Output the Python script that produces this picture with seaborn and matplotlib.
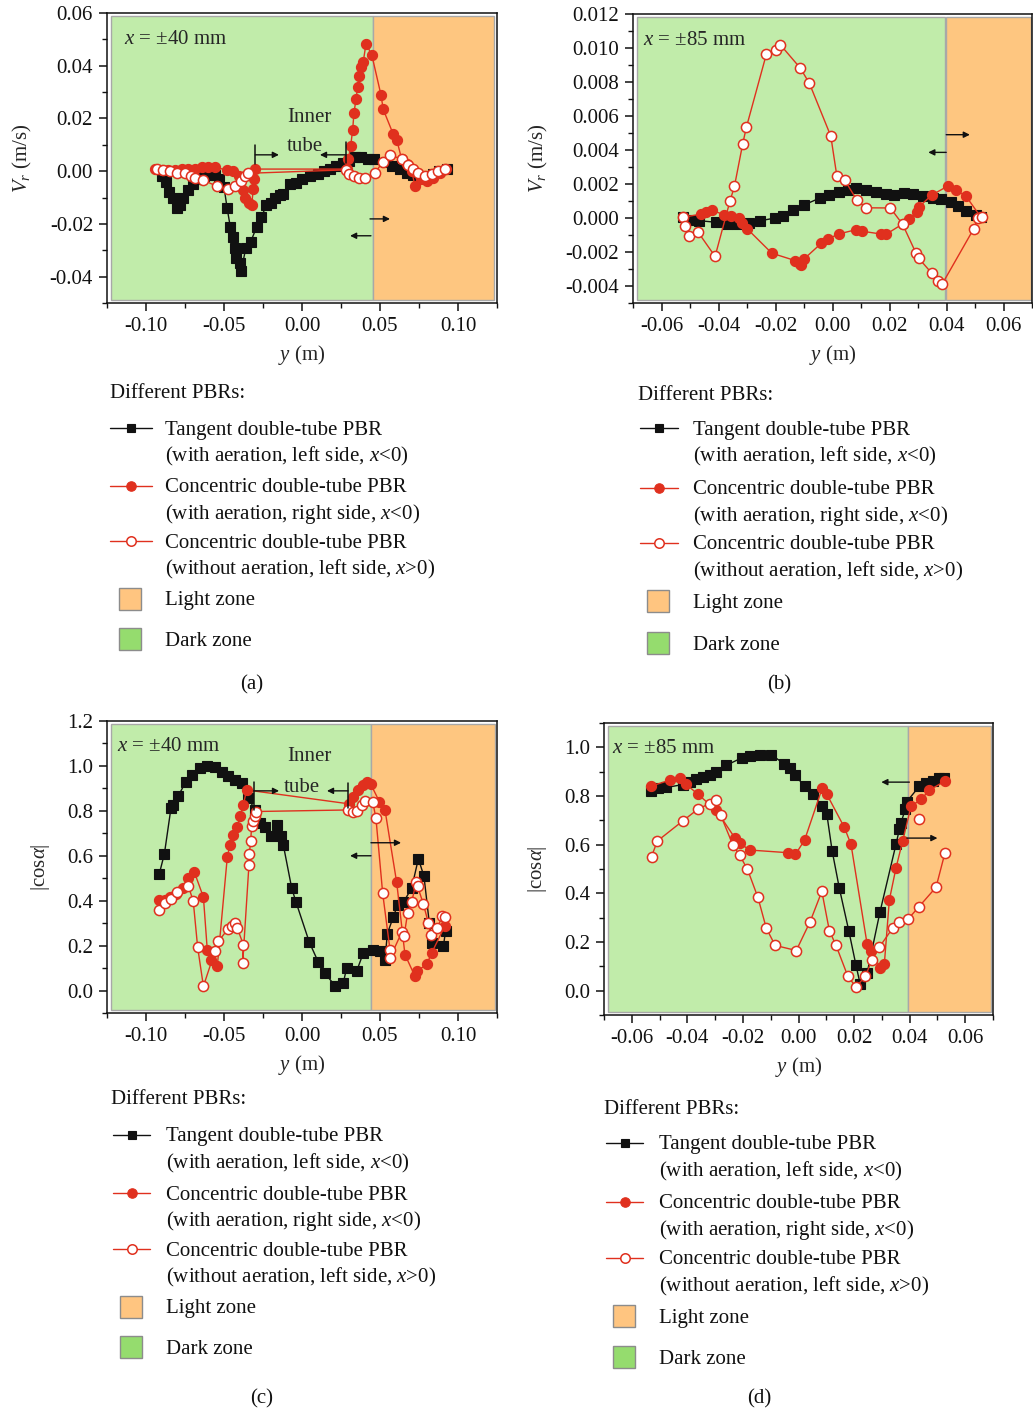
import matplotlib
matplotlib.use("Agg")
import matplotlib.pyplot as plt
import seaborn as sns
from matplotlib.lines import Line2D
from matplotlib.patches import Rectangle
from matplotlib.ticker import MultipleLocator

sns.set_theme(style="ticks")
plt.rcParams.update({
    "font.family": ["Liberation Serif", "DejaVu Serif"],
    "mathtext.fontset": "custom",
    "mathtext.rm": "Liberation Serif",
    "mathtext.it": "Liberation Serif:italic",
    "mathtext.bf": "Liberation Serif:bold",
    "axes.unicode_minus": True,
    "axes.edgecolor": "#111111",
    "axes.linewidth": 1.1,
})

# ---------------- (a) radial velocity, x = ±40 mm ----------------
a_tan_y = [-0.090, -0.087, -0.085, -0.083, -0.080, -0.078, -0.076, -0.073, -0.070, -0.067,
           -0.063, -0.060, -0.056, -0.053, -0.050, -0.048, -0.046, -0.044, -0.043, -0.042,
           -0.040, -0.039, -0.036, -0.033, -0.029, -0.026, -0.023, -0.020, -0.017, -0.014,
           -0.012, -0.008, -0.004, 0.000, 0.005, 0.010, 0.014, 0.018, 0.022, 0.026,
           0.030, 0.034, 0.038, 0.042, 0.046, 0.054, 0.058, 0.063, 0.067, 0.071,
           0.075, 0.080, 0.084, 0.088, 0.093]
a_tan_v = [-0.002, -0.004, -0.008, -0.010, -0.014, -0.013, -0.010, -0.007, -0.005, -0.003,
           -0.002, -0.0015, -0.0015, -0.003, -0.006, -0.014, -0.021, -0.025, -0.029, -0.033,
           -0.035, -0.038, -0.029, -0.027, -0.021, -0.0175, -0.013, -0.012, -0.010, -0.009,
           -0.0085, -0.005, -0.0045, -0.003, -0.002, -0.001, 0.000, 0.001, 0.002, 0.003,
           0.004, 0.0055, 0.0055, 0.0048, 0.0045, 0.0035, 0.002, 0.0008, -0.0005, -0.0015,
           -0.0025, -0.002, -0.001, 0.000, 0.0008]

a_con_y = [-0.0942, -0.090, -0.0857, -0.0814, -0.0771, -0.0729, -0.0686, -0.0643, -0.060, -0.0558,
           -0.0483, -0.044, -0.0402, -0.038, -0.0365, -0.034, -0.0323, -0.0312, -0.0308, -0.0301,
           0.0286, 0.0297, 0.0312, 0.0325, 0.0333, 0.0346, 0.0357, 0.0368, 0.0378, 0.0393,
           0.041, 0.0447, 0.0506, 0.0521, 0.0585, 0.0607, 0.0639, 0.0671, 0.0703, 0.0724,
           0.0761, 0.0799, 0.0842, 0.0885, 0.0921]
a_con_v = [0.0008, 0.0005, 0.0005, 0.0005, 0.0008, 0.001, 0.001, 0.0014, 0.0014, 0.0014,
           0.0005, 0.0001, -0.0018, -0.007, -0.010, -0.012, -0.0128, -0.0068, -0.003, 0.0008,
           0.0008, 0.0045, 0.0096, 0.0158, 0.0221, 0.0272, 0.032, 0.0362, 0.0397, 0.0416,
           0.0483, 0.0442, 0.029, 0.0234, 0.014, 0.012, 0.0045, 0.0026, 0.0001, -0.0055,
           -0.003, -0.0036, -0.0024, -0.0005, 0.001]

a_noa_y = [-0.0932, -0.0889, -0.0846, -0.0799, -0.075, -0.0714, -0.0686, -0.0632, -0.0543, -0.0472,
           -0.0429, -0.0393, -0.0365, -0.0344, 0.0282, 0.0303, 0.0333, 0.0368, 0.0404, 0.0468,
           0.0517, 0.0564, 0.0639, 0.0682, 0.0714, 0.0746, 0.0788, 0.0831, 0.0874, 0.0917]
a_noa_v = [0.0008, 0.0003, -0.0001, -0.0005, -0.0008, -0.0018, -0.0024, -0.0034, -0.0058, -0.0068,
           -0.0055, -0.0036, -0.0018, -0.0008, 0.0005, -0.0011, -0.0018, -0.0024, -0.0026, -0.0005,
           0.0033, 0.0062, 0.0045, 0.0024, 0.0008, -0.0005, -0.0018, -0.0009, 0.0001, 0.001]

# ---------------- (b) radial velocity, x = ±85 mm ----------------
b_tan_y = [-0.0525, -0.0496, -0.0467, -0.0409, -0.0369, -0.0334, -0.0293, -0.0253, -0.0201, -0.0172,
           -0.0137, -0.0101, -0.0045, -0.0013, 0.0024, 0.0053, 0.0084, 0.0117, 0.0151, 0.0186,
           0.0215, 0.025, 0.0284, 0.0319, 0.0354, 0.0382, 0.0417, 0.044, 0.0469, 0.0504, 0.0521]
b_tan_v = [0.00004, -0.0001, -0.00016, -0.00025, -0.00037, -0.00037, -0.00029, -0.00016, 0.0, 0.00014,
           0.00049, 0.00076, 0.00117, 0.00135, 0.00154, 0.00166, 0.00174, 0.00166, 0.00154, 0.00141,
           0.00137, 0.00146, 0.00142, 0.00131, 0.00117, 0.00111, 0.00092, 0.00068, 0.00043, 0.00018, 0.00004]

b_con_y = [-0.0525, -0.0461, -0.0444, -0.0424, -0.038, -0.0355, -0.0328, -0.0317, -0.0299, -0.0213,
           -0.0132, -0.0114, -0.0109, -0.0099, -0.0039, -0.0016, 0.0022, 0.0084, 0.0105, 0.0169,
           0.0188, 0.0246, 0.0267, 0.0296, 0.0304, 0.0348, 0.0406, 0.0432, 0.0469, 0.0521]
b_con_v = [0.00004, 0.00023, 0.00033, 0.00047, 0.00018, 0.00014, 0.00002, -0.00029, -0.00064, -0.00207,
           -0.0025, -0.00269, -0.00275, -0.0024, -0.00148, -0.00123, -0.00094, -0.00068, -0.00078, -0.00094,
           -0.00096, -0.00035, -0.00006, 0.00033, 0.00066, 0.00135, 0.00189, 0.00166, 0.00127, 0.00004]

b_noa_y = [-0.0525, -0.0519, -0.0504, -0.0473, -0.0412, -0.036, -0.0344, -0.0315, -0.0302, -0.0232,
           -0.020, -0.0183, -0.0113, -0.0081, -0.0006, 0.0015, 0.0043, 0.0085, 0.0117, 0.0203,
           0.0246, 0.0293, 0.0302, 0.0349, 0.0371, 0.0385, 0.0496, 0.051, 0.0525]
b_noa_v = [0.00004, -0.00045, -0.00107, -0.0008, -0.00226, 0.00098, 0.00187, 0.00437, 0.00535, 0.00964,
           0.0099, 0.01019, 0.00882, 0.00792, 0.00482, 0.0025, 0.00222, 0.00107, 0.0006, 0.00059,
           -0.00037, -0.00207, -0.00236, -0.00326, -0.00373, -0.00388, -0.00062, 0.0, 0.00004]

# ---------------- (c) |cos alpha|, x = ±40 mm ----------------
c_tan_y = [-0.0915, -0.0882, -0.084, -0.0829, -0.0793, -0.0744, -0.0707, -0.0654, -0.0611, -0.0558,
           -0.0515, -0.0472, -0.0429, -0.0387, -0.0344, -0.0301, -0.0269, -0.0237, -0.0201, -0.0162,
           -0.0135, -0.012, -0.0066, -0.0038, 0.0047, 0.0105, 0.0147, 0.0212, 0.0265, 0.0286,
           0.035, 0.0393, 0.0453, 0.050, 0.0532, 0.0547, 0.0585, 0.0613, 0.065, 0.0703,
           0.0746, 0.0782, 0.0816, 0.0831, 0.0906, 0.0921]
c_tan_c = [0.519, 0.609, 0.812, 0.827, 0.867, 0.930, 0.960, 0.990, 1.0, 0.997,
           0.975, 0.953, 0.938, 0.923, 0.856, 0.804, 0.745, 0.727, 0.686, 0.738,
           0.689, 0.649, 0.456, 0.393, 0.215, 0.126, 0.076, 0.022, 0.034, 0.101,
           0.086, 0.167, 0.179, 0.175, 0.138, 0.253, 0.327, 0.382, 0.393, 0.456,
           0.587, 0.508, 0.301, 0.212, 0.197, 0.267]

c_con_y = [-0.0915, -0.0878, -0.0846, -0.0808, -0.0761, -0.0729, -0.069, -0.0632, -0.0607, -0.0583,
           -0.0543, -0.0479, -0.0462, -0.044, -0.0415, -0.0397, -0.0376, -0.0355, 0.0303, 0.0329,
           0.0361, 0.0393, 0.0419, 0.044, 0.0496, 0.0532, 0.0607, 0.066, 0.0724, 0.0735,
           0.0799, 0.0831, 0.0917]
c_con_c = [0.404, 0.401, 0.415, 0.431, 0.456, 0.501, 0.527, 0.416, 0.179, 0.135,
           0.108, 0.593, 0.649, 0.693, 0.730, 0.775, 0.827, 0.893, 0.831, 0.861,
           0.893, 0.916, 0.930, 0.920, 0.841, 0.804, 0.481, 0.160, 0.064, 0.086,
           0.116, 0.167, 0.289]

c_noa_y = [-0.0915, -0.0878, -0.0842, -0.0803, -0.0729, -0.0697, -0.0669, -0.0632, -0.0558, -0.0536,
           -0.0472, -0.0447, -0.0429, -0.0415, -0.0376, -0.038, -0.034, -0.0338, -0.0329, -0.0323,
           -0.0312, -0.0299, -0.0295, 0.0297, 0.0329, 0.0355, 0.0382, 0.0404, 0.0453, 0.0474,
           0.0517, 0.0564, 0.0564, 0.0639, 0.0654, 0.0677, 0.0703, 0.0731, 0.0741, 0.0778,
           0.081, 0.0825, 0.0868, 0.090, 0.0917]
c_noa_c = [0.36, 0.39, 0.407, 0.439, 0.467, 0.397, 0.193, 0.019, 0.175, 0.219,
           0.276, 0.289, 0.301, 0.279, 0.204, 0.123, 0.56, 0.609, 0.664, 0.733,
           0.753, 0.775, 0.797, 0.804, 0.797, 0.80, 0.827, 0.846, 0.841, 0.767,
           0.434, 0.182, 0.145, 0.259, 0.241, 0.345, 0.393, 0.481, 0.464, 0.385,
           0.301, 0.249, 0.279, 0.333, 0.327]

# ---------------- (d) |cos alpha|, x = ±85 mm ----------------
d_tan_y = [-0.0532, -0.0505, -0.0476, -0.0416, -0.0392, -0.0368, -0.0344, -0.032, -0.0296, -0.026,
           -0.0202, -0.0176, -0.014, -0.0098, -0.0053, -0.0032, -0.0012, 0.0022, 0.0052, 0.0085,
           0.0102, 0.0121, 0.0147, 0.0181, 0.0207, 0.0222, 0.0247, 0.0293, 0.0351, 0.0363,
           0.0369, 0.0384, 0.0389, 0.0435, 0.0459, 0.0483, 0.0507, 0.0525]
d_tan_c = [0.821, 0.831, 0.835, 0.847, 0.858, 0.868, 0.878, 0.888, 0.899, 0.926,
           0.958, 0.963, 0.970, 0.970, 0.933, 0.917, 0.885, 0.840, 0.810, 0.758,
           0.725, 0.575, 0.421, 0.246, 0.104, 0.027, 0.072, 0.322, 0.602, 0.663,
           0.690, 0.745, 0.776, 0.840, 0.854, 0.861, 0.872, 0.876]

d_con_y = [-0.0532, -0.0464, -0.0428, -0.0404, -0.0362, -0.0296, -0.0228, -0.021, -0.0176, -0.0038,
           -0.0011, 0.0022, 0.0085, 0.0102, 0.0165, 0.0189, 0.0247, 0.0261, 0.0295, 0.0309,
           0.0327, 0.0351, 0.0375, 0.0405, 0.0441, 0.0471, 0.0528]
d_con_c = [0.840, 0.865, 0.876, 0.848, 0.807, 0.742, 0.626, 0.605, 0.578, 0.567,
           0.560, 0.619, 0.831, 0.807, 0.671, 0.601, 0.191, 0.165, 0.093, 0.111,
           0.373, 0.505, 0.616, 0.758, 0.786, 0.824, 0.862]

d_noa_y = [-0.0529, -0.0508, -0.0416, -0.0362, -0.032, -0.0296, -0.028, -0.0236, -0.0212, -0.0184,
           -0.0146, -0.0116, -0.0084, -0.0008, 0.0042, 0.0084, 0.0111, 0.0135, 0.0177, 0.0207,
           0.0241, 0.0265, 0.0291, 0.0339, 0.0363, 0.0395, 0.0432, 0.0495, 0.0527]
d_noa_c = [0.551, 0.615, 0.698, 0.746, 0.769, 0.783, 0.721, 0.598, 0.556, 0.50,
           0.383, 0.257, 0.186, 0.165, 0.284, 0.408, 0.247, 0.186, 0.061, 0.014,
           0.061, 0.127, 0.179, 0.257, 0.281, 0.295, 0.343, 0.425, 0.566]
d_noa_extra_y = [0.0432]
d_noa_extra_c = [0.704]

# ---------------- styling ----------------
W, H = 1033, 1412
RED = "#e0301e"
BLACK = "#111111"
GREEN_BG = "#c1ecaa"
ORANGE_BG = "#fec680"
GREEN_KEY = "#95dc6e"
ORANGE_KEY = "#ffc580"
FS = 15

styles = {
    "tan": dict(color=BLACK, marker="s", markersize=6.8, markerfacecolor=BLACK,
                markeredgecolor=BLACK, markeredgewidth=0.8),
    "con": dict(color=RED, marker="o", markersize=7.3, markerfacecolor=RED,
                markeredgecolor=RED, markeredgewidth=0.8),
    "noa": dict(color=RED, marker="o", markersize=7.3, markerfacecolor="white",
                markeredgecolor=RED, markeredgewidth=1.1),
}

legend_labels = [
    ("tan", "Tangent double-tube PBR", "(with aeration, left side, $x$<0)"),
    ("con", "Concentric double-tube PBR", "(with aeration, right side, $x$<0)"),
    ("noa", "Concentric double-tube PBR", "(without aeration, left side, $x$>0)"),
]

fig = plt.figure(figsize=(W / 100, H / 100), dpi=100)


def make_axes(left, top, right, bottom):
    return fig.add_axes([left / W, 1 - bottom / H, (right - left) / W, (bottom - top) / H])


def series(ax, x, y, key):
    st = styles[key]
    sns.lineplot(x=x, y=y, ax=ax, sort=False, estimator=None, lw=1.0, legend=False,
                 color=st["color"], marker=st["marker"], markersize=st["markersize"],
                 markerfacecolor=st["markerfacecolor"], markeredgecolor=st["markeredgecolor"],
                 markeredgewidth=st["markeredgewidth"])


def zones(ax, green, orange):
    ax.axvspan(green[0], green[1], ymin=0.01, ymax=0.99, facecolor=GREEN_BG,
               edgecolor="#a8a8a8", lw=1.0, zorder=0)
    ax.axvspan(orange[0], orange[1], ymin=0.01, ymax=0.99, facecolor=ORANGE_BG,
               edgecolor="#a8a8a8", lw=1.0, zorder=0)


def style_axes(ax, xlim, ylim, xmaj, xmin, ymaj, ymin, xfmt, yfmt, ylabel):
    ax.set_xlim(*xlim)
    ax.set_ylim(*ylim)
    ax.xaxis.set_major_locator(MultipleLocator(xmaj))
    ax.xaxis.set_minor_locator(MultipleLocator(xmin))
    ax.yaxis.set_major_locator(MultipleLocator(ymaj))
    ax.yaxis.set_minor_locator(MultipleLocator(ymin))
    ax.xaxis.set_major_formatter(plt.FormatStrFormatter(xfmt))
    ax.yaxis.set_major_formatter(plt.FormatStrFormatter(yfmt))
    ax.tick_params(which="major", direction="out", length=6, width=1.1, labelsize=FS,
                   colors="#111111", pad=4)
    ax.tick_params(which="minor", direction="out", length=3.5, width=1.0, colors="#111111")
    ax.set_xlabel("$y$ (m)", fontsize=FS, labelpad=5)
    ax.set_ylabel(ylabel, fontsize=FS, labelpad=11)
    for s in ax.spines.values():
        s.set_visible(True)


def arrow(ax, start, end):
    ax.annotate("", xy=end, xytext=start,
                arrowprops=dict(arrowstyle="-|>", color=BLACK, lw=1.0,
                                mutation_scale=9, shrinkA=0, shrinkB=0))


def bar(ax, x, y0, y1):
    ax.plot([x, x], [y0, y1], color=BLACK, lw=1.1)


def fig_text(x, y, s, **kw):
    fig.text(x / W, 1 - (y + 2) / H, s, fontsize=FS, color="#111111", **kw)


def legend_block(title_xy, hx0, hx1, tx, rows, patch_x, patch_rows, tag, tag_xy):
    fig_text(title_xy[0], title_xy[1], "Different PBRs:", ha="left", va="center")
    for (key, l1, l2), ry in zip(legend_labels, rows):
        st = styles[key]
        fy = 1 - ry / H
        fig.add_artist(Line2D([hx0 / W, hx1 / W], [fy, fy], transform=fig.transFigure,
                              color=st["color"], lw=1.0))
        fig.add_artist(Line2D([(hx0 + hx1) / 2 / W], [fy], transform=fig.transFigure,
                              marker=st["marker"], markersize=st["markersize"] - 0.5,
                              markerfacecolor=st["markerfacecolor"],
                              markeredgecolor=st["markeredgecolor"],
                              markeredgewidth=st["markeredgewidth"], linestyle="none"))
        fig_text(tx, ry, l1, ha="left", va="center")
        fig_text(tx, ry + 26, l2, ha="left", va="center")
    for (label, col), ry in zip([("Light zone", ORANGE_KEY), ("Dark zone", GREEN_KEY)], patch_rows):
        fig.add_artist(Rectangle((patch_x / W, 1 - (ry + 11) / H), 22 / W, 22 / H,
                                 transform=fig.transFigure, facecolor=col,
                                 edgecolor="#8c8c8c", lw=1.0))
        fig_text(tx, ry, label, ha="left", va="center")
    fig_text(tag_xy[0], tag_xy[1], tag, ha="center", va="center")


# ---------- panel (a) ----------
ax = make_axes(107, 13, 497, 303)
zones(ax, (-0.1225, 0.0455), (0.0455, 0.1232))
series(ax, a_tan_y, a_tan_v, "tan")
series(ax, a_con_y, a_con_v, "con")
series(ax, a_noa_y, a_noa_v, "noa")
style_axes(ax, (-0.125, 0.125), (-0.05, 0.06), 0.05, 0.025, 0.02, 0.01, "%.2f", "%.2f",
           "$V_r$ (m/s)")
ax.text(0.044, 0.91, "$x$ = ±40 mm", transform=ax.transAxes, fontsize=FS, ha="left", va="center")
ax.text(0.005, 0.0204, "Inner", fontsize=FS, ha="center", va="center")
ax.text(0.002, 0.0094, "tube", fontsize=FS, ha="center", va="center")
bar(ax, -0.030, 0.0026, 0.0100)
arrow(ax, (-0.030, 0.0062), (-0.0148, 0.0062))
bar(ax, 0.0282, 0.0032, 0.0110)
arrow(ax, (0.0282, 0.0062), (0.0115, 0.0062))
arrow(ax, (0.0436, -0.0181), (0.0564, -0.0181))
arrow(ax, (0.0442, -0.0245), (0.0308, -0.0245))
legend_block((110, 391), 110, 152, 165, [428, 486, 541], 119, [599, 639], "(a)", (252, 683))

# ---------- panel (b) ----------
ax = make_axes(633, 14, 1032, 303)
zones(ax, (-0.0685, 0.0395), (0.0398, 0.0698))
series(ax, b_tan_y, b_tan_v, "tan")
series(ax, b_con_y, b_con_v, "con")
series(ax, b_noa_y, b_noa_v, "noa")
style_axes(ax, (-0.07, 0.07), (-0.005, 0.012), 0.02, 0.01, 0.002, 0.001, "%.2f", "%.3f",
           "$V_r$ (m/s)")
ax.text(0.025, 0.907, "$x$ = ±85 mm", transform=ax.transAxes, fontsize=FS, ha="left", va="center")
arrow(ax, (0.0399, 0.0049), (0.0482, 0.0049))
arrow(ax, (0.0399, 0.00386), (0.0336, 0.00386))
legend_block((638, 393), 640, 678, 693, [428, 488, 543], 647, [601, 643], "(b)", (779, 683))

# ---------- panel (c) ----------
ax = make_axes(107, 721, 497, 1013)
zones(ax, (-0.1225, 0.0440), (0.0440, 0.1235))
series(ax, c_tan_y, c_tan_c, "tan")
series(ax, c_con_y, c_con_c, "con")
series(ax, c_noa_y, c_noa_c, "noa")
style_axes(ax, (-0.125, 0.125), (-0.1, 1.2), 0.05, 0.025, 0.2, 0.1, "%.2f", "%.1f",
           r"|cos$\alpha$|")
ax.text(0.026, 0.914, "$x$ = ±40 mm", transform=ax.transAxes, fontsize=FS, ha="left", va="center")
ax.text(0.005, 1.04, "Inner", fontsize=FS, ha="center", va="center")
ax.text(0.0, 0.905, "tube", fontsize=FS, ha="center", va="center")
bar(ax, -0.0308, 0.804, 0.929)
arrow(ax, (-0.0308, 0.889), (-0.0147, 0.889))
bar(ax, 0.0295, 0.813, 0.924)
arrow(ax, (0.0295, 0.889), (0.016, 0.889))
arrow(ax, (0.0442, 0.658), (0.0635, 0.658))
arrow(ax, (0.0442, 0.60), (0.0308, 0.60))
legend_block((111, 1098), 113, 150, 166, [1135, 1193, 1249], 120, [1307, 1347], "(c)", (262, 1397))

# ---------- panel (d) ----------
ax = make_axes(604, 723, 993, 1015)
zones(ax, (-0.0685, 0.0395), (0.0395, 0.0693))
series(ax, d_tan_y, d_tan_c, "tan")
series(ax, d_con_y, d_con_c, "con")
series(ax, d_noa_y, d_noa_c, "noa")
st = styles["noa"]
sns.scatterplot(x=d_noa_extra_y, y=d_noa_extra_c, ax=ax, marker="o", s=st["markersize"] ** 2,
                color="white", edgecolor=RED, linewidth=1.1, legend=False, zorder=3)
style_axes(ax, (-0.07, 0.07), (-0.1, 1.1), 0.02, 0.01, 0.2, 0.1, "%.2f", "%.1f",
           r"|cos$\alpha$|")
ax.text(0.02, 0.914, "$x$ = ±85 mm", transform=ax.transAxes, fontsize=FS, ha="left", va="center")
arrow(ax, (0.0399, 0.857), (0.0298, 0.857))
arrow(ax, (0.0390, 0.627), (0.0500, 0.627))
legend_block((604, 1107), 606, 643, 659, [1143, 1202, 1258], 613, [1316, 1357], "(d)", (759, 1397))

fig.savefig("out.png", dpi=100)
